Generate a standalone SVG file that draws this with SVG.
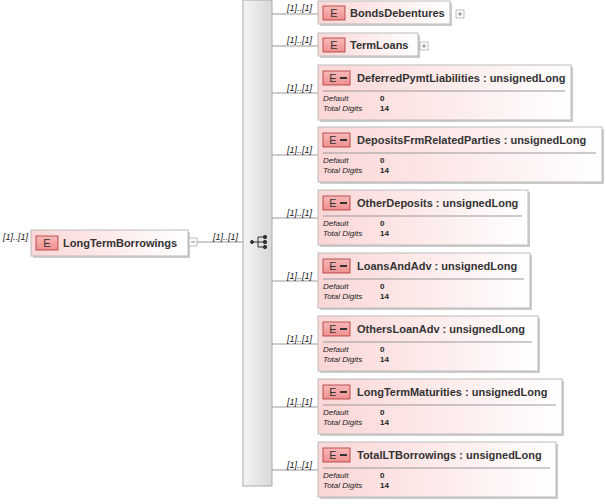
<svg xmlns="http://www.w3.org/2000/svg" width="606" height="504" viewBox="0 0 606 504">
<defs>
<linearGradient id="g" x1="0" y1="0" x2="0" y2="1"><stop offset="0" stop-color="#fff4f4"/><stop offset="1" stop-color="#fbd0d0"/></linearGradient>
<linearGradient id="gh" x1="0" y1="0" x2="1" y2="0"><stop offset="0" stop-color="#fbd6d6"/><stop offset="1" stop-color="#ffffff"/></linearGradient>
<linearGradient id="gb" x1="0" y1="0" x2="0" y2="1"><stop offset="0" stop-color="#f9b9b9"/><stop offset="1" stop-color="#ef9090"/></linearGradient>
<linearGradient id="gs" x1="0" y1="0" x2="1" y2="0"><stop offset="0" stop-color="#f4f4f4"/><stop offset="1" stop-color="#d8d8d8"/></linearGradient>
</defs>
<style>
.box{fill:url(#gh);stroke:#bbb;stroke-width:1}
.sh{fill:#ccc}
.badge{fill:url(#gb);stroke:#a33;stroke-width:0.8}
.bt{font-family:"Liberation Sans",Arial,sans-serif;font-size:11px;fill:#333}
.t{font-family:"Liberation Sans",Arial,sans-serif;font-size:11px;font-weight:bold;fill:#333}
.m{font-family:"Liberation Sans",Arial,sans-serif;font-size:9px;font-style:italic;fill:#222}
.k{font-family:"Liberation Sans",Arial,sans-serif;font-size:8px;font-style:italic;fill:#222}
.v{font-family:"Liberation Sans",Arial,sans-serif;font-size:8px;font-weight:bold;fill:#222}
.ln{stroke:#999;stroke-width:1;fill:none}
.pm{fill:#fff;stroke:#aaa;stroke-width:0.8}
</style>
<g id="connectors">
<line class="ln" x1="197" y1="242" x2="243" y2="242"/>
<line class="ln" x1="272" y1="14" x2="318" y2="14"/>
<line class="ln" x1="272" y1="46" x2="318" y2="46"/>
<line class="ln" x1="272" y1="93" x2="318" y2="93"/>
<line class="ln" x1="272" y1="155" x2="318" y2="155"/>
<line class="ln" x1="272" y1="218" x2="318" y2="218"/>
<line class="ln" x1="272" y1="281" x2="318" y2="281"/>
<line class="ln" x1="272" y1="344" x2="318" y2="344"/>
<line class="ln" x1="272" y1="407" x2="318" y2="407"/>
<line class="ln" x1="272" y1="470" x2="318" y2="470"/>
<text class="m" x="213" y="240">[1]..[1]</text>
<text class="m" x="287" y="11">[1]..[1]</text>
<text class="m" x="287" y="43">[1]..[1]</text>
<text class="m" x="287" y="91">[1]..[1]</text>
<text class="m" x="287" y="153">[1]..[1]</text>
<text class="m" x="287" y="216">[1]..[1]</text>
<text class="m" x="287" y="279">[1]..[1]</text>
<text class="m" x="287" y="342">[1]..[1]</text>
<text class="m" x="287" y="405">[1]..[1]</text>
<text class="m" x="287" y="468">[1]..[1]</text>
</g>
<g id="sequence">
<rect x="243" y="0" width="29" height="486" fill="url(#gs)" stroke="#aaa"/>
<g fill="#333" stroke="#333" stroke-width="1">
<circle cx="252" cy="242" r="1.5"/><line x1="252" y1="242" x2="258" y2="242"/>
<line x1="258" y1="237" x2="258" y2="247"/><line x1="258" y1="237" x2="264" y2="237"/><line x1="258" y1="242" x2="264" y2="242"/><line x1="258" y1="247" x2="264" y2="247"/>
<circle cx="265" cy="237" r="1.7"/><circle cx="265" cy="242" r="1.7"/><circle cx="265" cy="247" r="1.7"/>
</g>
</g>
<g id="root">
<text class="m" x="3" y="240">[1]..[1]</text>
<rect class="sh" x="33" y="232" width="157" height="26"/>
<rect class="box" x="31" y="230" width="157" height="26"/>
<rect class="badge" x="36" y="236" width="22" height="14"/>
<text class="bt" x="47" y="247" text-anchor="middle">E</text>
<text class="t" x="63" y="247">LongTermBorrowings</text>
<rect class="pm" x="189" y="238" width="8" height="8"/><line x1="191" y1="242" x2="195" y2="242" stroke="#888"/>
</g>
<g id="BondsDebentures">
<rect class="sh" x="320" y="3" width="132" height="23"/>
<rect class="box" x="318" y="1" width="132" height="23"/>
<rect class="badge" x="323" y="6" width="22" height="14"/>
<text class="bt" x="334" y="17" text-anchor="middle">E</text>
<text class="t" x="350" y="17">BondsDebentures</text>
<rect class="pm" x="456" y="10" width="8" height="8"/><path d="M458 14h4M460 12v4" stroke="#888"/>
</g>
<g id="TermLoans">
<rect class="sh" x="320" y="35" width="100" height="23"/>
<rect class="box" x="318" y="33" width="100" height="23"/>
<rect class="badge" x="323" y="38" width="22" height="14"/>
<text class="bt" x="334" y="49" text-anchor="middle">E</text>
<text class="t" x="350" y="49">TermLoans</text>
<rect class="pm" x="420" y="42" width="8" height="8"/><path d="M422 46h4M424 44v4" stroke="#888"/>
</g>
<g id="DeferredPymtLiabilities" transform="translate(0,65)">
<rect class="sh" x="320" y="2" width="253" height="55"/><rect class="box" x="318" y="0" width="253" height="55"/>
<rect class="badge" x="323" y="6" width="27" height="14"/><text class="bt" x="333" y="17" text-anchor="middle">E</text><rect x="340" y="12" width="7" height="2" fill="#333"/>
<text class="t" x="357" y="17">DeferredPymtLiabilities : unsignedLong</text>
<line x1="323" y1="26" x2="565" y2="26" stroke="#999"/>
<text class="k" x="323" y="36">Default</text><text class="v" x="380" y="36">0</text>
<text class="k" x="323" y="46">Total Digits</text><text class="v" x="380" y="46">14</text>
</g>
<g id="DepositsFrmRelatedParties" transform="translate(0,127)">
<rect class="sh" x="320" y="2" width="284" height="55"/><rect class="box" x="318" y="0" width="284" height="55"/>
<rect class="badge" x="323" y="6" width="27" height="14"/><text class="bt" x="333" y="17" text-anchor="middle">E</text><rect x="340" y="12" width="7" height="2" fill="#333"/>
<text class="t" x="357" y="17">DepositsFrmRelatedParties : unsignedLong</text>
<line x1="323" y1="26" x2="596" y2="26" stroke="#999"/>
<text class="k" x="323" y="36">Default</text><text class="v" x="380" y="36">0</text>
<text class="k" x="323" y="46">Total Digits</text><text class="v" x="380" y="46">14</text>
</g>
<g id="OtherDeposits" transform="translate(0,190)">
<rect class="sh" x="320" y="2" width="210" height="55"/><rect class="box" x="318" y="0" width="210" height="55"/>
<rect class="badge" x="323" y="6" width="27" height="14"/><text class="bt" x="333" y="17" text-anchor="middle">E</text><rect x="340" y="12" width="7" height="2" fill="#333"/>
<text class="t" x="357" y="17">OtherDeposits : unsignedLong</text>
<line x1="323" y1="26" x2="522" y2="26" stroke="#999"/>
<text class="k" x="323" y="36">Default</text><text class="v" x="380" y="36">0</text>
<text class="k" x="323" y="46">Total Digits</text><text class="v" x="380" y="46">14</text>
</g>
<g id="LoansAndAdv" transform="translate(0,253)">
<rect class="sh" x="320" y="2" width="212" height="55"/><rect class="box" x="318" y="0" width="212" height="55"/>
<rect class="badge" x="323" y="6" width="27" height="14"/><text class="bt" x="333" y="17" text-anchor="middle">E</text><rect x="340" y="12" width="7" height="2" fill="#333"/>
<text class="t" x="357" y="17">LoansAndAdv : unsignedLong</text>
<line x1="323" y1="26" x2="524" y2="26" stroke="#999"/>
<text class="k" x="323" y="36">Default</text><text class="v" x="380" y="36">0</text>
<text class="k" x="323" y="46">Total Digits</text><text class="v" x="380" y="46">14</text>
</g>
<g id="OthersLoanAdv" transform="translate(0,316)">
<rect class="sh" x="320" y="2" width="220" height="55"/><rect class="box" x="318" y="0" width="220" height="55"/>
<rect class="badge" x="323" y="6" width="27" height="14"/><text class="bt" x="333" y="17" text-anchor="middle">E</text><rect x="340" y="12" width="7" height="2" fill="#333"/>
<text class="t" x="357" y="17">OthersLoanAdv : unsignedLong</text>
<line x1="323" y1="26" x2="532" y2="26" stroke="#999"/>
<text class="k" x="323" y="36">Default</text><text class="v" x="380" y="36">0</text>
<text class="k" x="323" y="46">Total Digits</text><text class="v" x="380" y="46">14</text>
</g>
<g id="LongTermMaturities" transform="translate(0,379)">
<rect class="sh" x="320" y="2" width="244" height="55"/><rect class="box" x="318" y="0" width="244" height="55"/>
<rect class="badge" x="323" y="6" width="27" height="14"/><text class="bt" x="333" y="17" text-anchor="middle">E</text><rect x="340" y="12" width="7" height="2" fill="#333"/>
<text class="t" x="357" y="17">LongTermMaturities : unsignedLong</text>
<line x1="323" y1="26" x2="556" y2="26" stroke="#999"/>
<text class="k" x="323" y="36">Default</text><text class="v" x="380" y="36">0</text>
<text class="k" x="323" y="46">Total Digits</text><text class="v" x="380" y="46">14</text>
</g>
<g id="TotalLTBorrowings" transform="translate(0,442)">
<rect class="sh" x="320" y="2" width="238" height="55"/><rect class="box" x="318" y="0" width="238" height="55"/>
<rect class="badge" x="323" y="6" width="27" height="14"/><text class="bt" x="333" y="17" text-anchor="middle">E</text><rect x="340" y="12" width="7" height="2" fill="#333"/>
<text class="t" x="357" y="17">TotalLTBorrowings : unsignedLong</text>
<line x1="323" y1="26" x2="550" y2="26" stroke="#999"/>
<text class="k" x="323" y="36">Default</text><text class="v" x="380" y="36">0</text>
<text class="k" x="323" y="46">Total Digits</text><text class="v" x="380" y="46">14</text>
</g>
</svg>
